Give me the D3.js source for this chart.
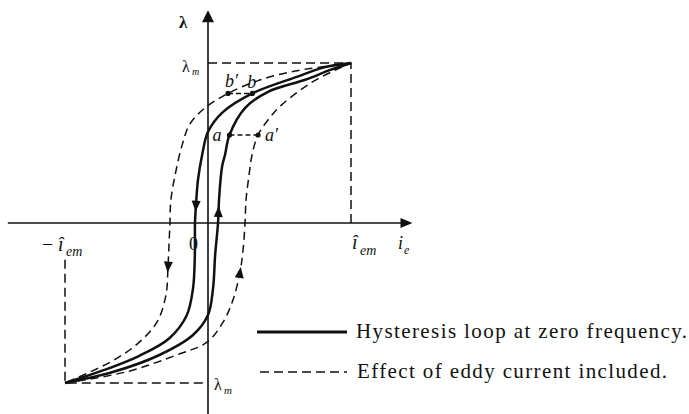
<!DOCTYPE html>
<html>
<head>
<meta charset="utf-8">
<script src="https://cdn.jsdelivr.net/npm/d3@7"></script>
<style>
  html, body { margin: 0; padding: 0; background: #fff; }
  svg { display: block; }
  text { font-family: "Liberation Serif", "DejaVu Serif", serif; fill: #111; }
</style>
</head>
<body>
<svg id="chart" width="689" height="414"></svg>
<script>
// Flux linkage λ against exciting current i_e, both as fractions of their peak values.
// Each branch runs in the direction the loop is traced.

// Zero-frequency hysteresis loop
const descendingStatic = [
  [1, 1], [0.82, 0.975], [0.61, 0.91], [0.31, 0.81], [0.10, 0.69], [0.0, 0.57],
  [-0.04, 0.43], [-0.07, 0.27], [-0.085, 0.10], [-0.091, 0], [-0.092, -0.2],
  [-0.105, -0.41], [-0.15, -0.58], [-0.27, -0.72], [-0.48, -0.83], [-0.73, -0.92], [-1, -1]
];
const ascendingStatic = [
  [-1, -1], [-0.66, -0.93], [-0.34, -0.825], [-0.105, -0.70], [0.0, -0.575],
  [0.035, -0.41], [0.05, -0.2], [0.07, 0], [0.077, 0.144], [0.098, 0.35], [0.12, 0.43],
  [0.15, 0.55], [0.26, 0.72], [0.42, 0.82], [0.68, 0.895], [0.85, 0.955], [1, 1]
];

// Loop widened by eddy currents
const descendingEddy = [
  [1, 1], [0.84, 0.98], [0.61, 0.95], [0.35, 0.89], [0.14, 0.81], [-0.02, 0.72],
  [-0.126, 0.62], [-0.18, 0.49], [-0.23, 0.30], [-0.26, 0.14], [-0.266, 0],
  [-0.273, -0.14], [-0.28, -0.28], [-0.294, -0.45], [-0.357, -0.62], [-0.50, -0.76],
  [-0.685, -0.87], [-1, -1]
];
const ascendingEddy = [
  [-1, -1], [-0.57, -0.93], [-0.22, -0.825], [-0.007, -0.745], [0.105, -0.62],
  [0.175, -0.48], [0.224, -0.306], [0.245, -0.17], [0.259, 0], [0.266, 0.144],
  [0.287, 0.30], [0.308, 0.425], [0.35, 0.55], [0.434, 0.66], [0.517, 0.74],
  [0.727, 0.88], [0.888, 0.955], [1, 1]
];

// Peak current and peak flux linkage
const peakCurrent = 1;
const peakLinkage = 1;

// Points compared at equal flux linkage
const markedPoints = [
  { label: "a",  i: 0.15, lambda: 0.55 },
  { label: "a′", i: 0.35, lambda: 0.55 },
  { label: "b′", i: 0.14, lambda: 0.81 },
  { label: "b",  i: 0.31, lambda: 0.81 }
];
const markedPairs = [["a", "a′"], ["b′", "b"]];

// Flux levels at which the direction arrows sit on each branch
const arrowLevels = [
  { branch: "descendingStatic", lambda: 0.07 },
  { branch: "ascendingStatic", lambda: 0.106 },
  { branch: "descendingEddy", lambda: -0.31 },
  { branch: "ascendingEddy", lambda: -0.275 }
];

const legendLabels = ["Hysteresis loop at zero frequency.", "Effect of eddy current included."];

const branches = { descendingStatic, ascendingStatic, descendingEddy, ascendingEddy };

const svg = d3.select("#chart");
const ink = "#111";

const x = d3.scaleLinear().domain([-peakCurrent, peakCurrent]).range([65, 351]);
const y = d3.scaleLinear().domain([-peakLinkage, peakLinkage]).range([383, 63]);

const line = d3.line()
  .x(d => x(d[0]))
  .y(d => y(d[1]))
  .curve(d3.curveCatmullRom.alpha(0.5));

// --- axes -------------------------------------------------------------
const axes = svg.append("g").attr("stroke", ink).attr("stroke-width", 1.6);
axes.append("line")
  .attr("x1", x(-1.4)).attr("x2", x(1.36))
  .attr("y1", y(0)).attr("y2", y(0));
axes.append("line")
  .attr("x1", x(0)).attr("x2", x(0))
  .attr("y1", y(-1.2)).attr("y2", y(1.28));
// arrowheads of the axes
svg.append("path")
  .attr("d", `M${x(1.43)},${y(0)} l-12,-5 l0,10 Z`)
  .attr("fill", ink);
svg.append("path")
  .attr("d", `M${x(0)},${y(1.33)} l-6,12 l12,0 Z`)
  .attr("fill", ink);

// --- dashed guides at the peak values ----------------------------------
const guides = svg.append("g")
  .attr("fill", "none").attr("stroke", ink).attr("stroke-width", 1.5)
  .attr("stroke-dasharray", "9,5");
guides.append("path")
  .attr("d", d3.line()([[x(0), y(peakLinkage)], [x(peakCurrent), y(peakLinkage)], [x(peakCurrent), y(0)]]));
guides.append("path")
  .attr("d", d3.line()([[x(-peakCurrent), y(-0.23)], [x(-peakCurrent), y(-peakLinkage)], [x(0), y(-peakLinkage)]]));

// --- loops ------------------------------------------------------------
const loops = svg.append("g").attr("fill", "none").attr("stroke", ink);
[descendingStatic, ascendingStatic].forEach(b => {
  loops.append("path").attr("d", line(b)).attr("stroke-width", 2.5);
});
[descendingEddy, ascendingEddy].forEach(b => {
  loops.append("path").attr("d", line(b)).attr("stroke-width", 1.5).attr("stroke-dasharray", "8,5");
});

// --- direction arrows on the branches -----------------------------------
arrowLevels.forEach(a => {
  const pts = branches[a.branch];
  let k = 0;
  for (; k < pts.length - 1; k++) {
    const lo = Math.min(pts[k][1], pts[k + 1][1]);
    const hi = Math.max(pts[k][1], pts[k + 1][1]);
    if (a.lambda >= lo && a.lambda <= hi) break;
  }
  const p0 = pts[k], p1 = pts[k + 1];
  const t = (a.lambda - p0[1]) / (p1[1] - p0[1]);
  const i = p0[0] + t * (p1[0] - p0[0]);
  const ang = Math.atan2(y(p1[1]) - y(p0[1]), x(p1[0]) - x(p0[0])) * 180 / Math.PI;
  svg.append("path")
    .attr("d", "M0,0 L-11,-4.5 L-11,4.5 Z")
    .attr("fill", ink)
    .attr("transform", `translate(${x(i)},${y(a.lambda)}) rotate(${ang})`);
});

// --- marked points a, a′, b, b′ ------------------------------------------
const byLabel = Object.fromEntries(markedPoints.map(p => [p.label, p]));
markedPairs.forEach(([p, q]) => {
  svg.append("line")
    .attr("x1", x(byLabel[p].i)).attr("y1", y(byLabel[p].lambda))
    .attr("x2", x(byLabel[q].i)).attr("y2", y(byLabel[q].lambda))
    .attr("stroke", ink).attr("stroke-width", 1.5).attr("stroke-dasharray", "5,3");
});
svg.selectAll("circle.mark").data(markedPoints).join("circle")
  .attr("class", "mark")
  .attr("cx", d => x(d.i)).attr("cy", d => y(d.lambda)).attr("r", 2.6)
  .attr("fill", ink);

const labelOffset = { "a": [-17, 6], "a′": [7, 6], "b′": [-3, -6], "b": [-5, -5] };
svg.selectAll("text.mark").data(markedPoints).join("text")
  .attr("class", "mark")
  .attr("x", d => x(d.i) + labelOffset[d.label][0])
  .attr("y", d => y(d.lambda) + labelOffset[d.label][1])
  .attr("font-size", 18).attr("font-style", "italic")
  .text(d => d.label);

// --- axis annotations ----------------------------------------------------
function label(tx, ty, str, size, italic) {
  return svg.append("text").attr("x", tx).attr("y", ty)
    .attr("font-size", size).attr("font-style", italic ? "italic" : "normal").text(str);
}
label(179, 28, "λ", 17, false).attr("font-weight", "bold");
label(182, 72, "λ", 16, false);
label(192, 75, "m", 10, true);
label(214, 390, "λ", 16, false);
label(224, 394, "m", 11, true);
label(189, 250, "0", 18, false);
label(42, 251, "−", 20, false);
label(58, 251, "î", 20, true);
label(66, 256, "em", 14, true);
label(352, 249, "î", 20, true);
label(360, 255, "em", 14, true);
label(398, 249, "i", 18, true);
label(404, 254, "e", 12, true);

// --- legend ---------------------------------------------------------------
const legend = svg.append("g");
legend.append("line")
  .attr("x1", 257).attr("x2", 347).attr("y1", 332).attr("y2", 332)
  .attr("stroke", ink).attr("stroke-width", 2.8);
legend.append("line")
  .attr("x1", 260).attr("x2", 347).attr("y1", 372).attr("y2", 372)
  .attr("stroke", ink).attr("stroke-width", 1.5).attr("stroke-dasharray", "9,5");
legend.append("text").attr("x", 356).attr("y", 338)
  .attr("font-size", 21).attr("textLength", 331).attr("lengthAdjust", "spacing")
  .text(legendLabels[0]);
legend.append("text").attr("x", 357).attr("y", 378)
  .attr("font-size", 21).attr("textLength", 310).attr("lengthAdjust", "spacing")
  .text(legendLabels[1]);
</script>
</body>
</html>
